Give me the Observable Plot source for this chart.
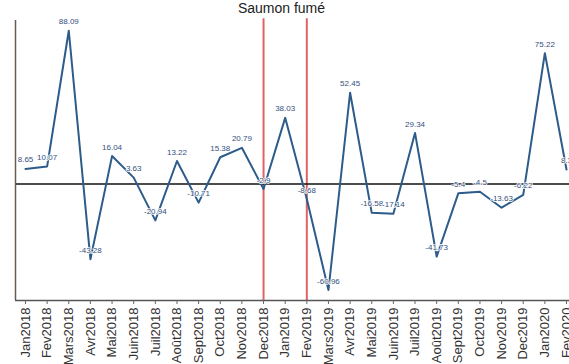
<!DOCTYPE html>
<html>
<head>
<meta charset="utf-8">
<script src="https://cdn.jsdelivr.net/npm/d3@7"></script>
<script src="https://cdn.jsdelivr.net/npm/@observablehq/plot@0.6"></script>
<style>
  body { margin: 0; background: #fff; font-family: "Liberation Sans", Arial, sans-serif; }
  #title { height: 18px; width: 569px; font-size: 14px; line-height: 16px; text-align: center; color: #222; box-sizing: border-box; padding-right: 6px; margin-top: 0; margin-bottom: 0;}
</style>
</head>
<body>
<div id="title">Saumon fumé</div>
<div id="chart"></div>
<script>
const months = ["Jan2018","Fev2018","Mars2018","Avr2018","Mai2018","Juin2018","Juil2018","Août2018","Sept2018","Oct2018","Nov2018","Dec2018","Jan2019","Fev2019","Mars2019","Avr2019","Mai2019","Juin2019","Juil2019","Août2019","Sept2019","Oct2019","Nov2019","Dec2019","Jan2020","Fev2020"];
const values = [8.65, 10.07, 88.09, -43.28, 16.04, 3.63, -20.94, 13.22, -10.71, 15.38, 20.79, -2.9, 38.03, -8.68, -60.96, 52.45, -16.58, -17.14, 29.34, -41.73, -5.4, -4.5, -13.63, -6.22, 75.22, 8.3];
const markers = ["Dec2018", "Fev2019"];
const yMin = -67, yMax = 94;

const data = months.map((m, i) => ({month: m, value: values[i]}));

const chart = Plot.plot({
  width: 569,
  height: 346,
  marginLeft: 15,
  marginRight: 0,
  marginTop: 2,
  marginBottom: 64,
  style: {fontFamily: "Liberation Sans, Arial, sans-serif", background: "white"},
  x: {type: "point", domain: months, range: [25, 566], padding: 0, round: false},
  y: {domain: [yMin, yMax], axis: null},
  marks: [
    Plot.ruleX(markers, {x: d => d, y1: yMin, y2: yMax + 1, stroke: "#e06464", strokeWidth: 2}),
    Plot.ruleY([0], {stroke: "#111", strokeWidth: 1.5}),
    Plot.ruleY([yMin], {stroke: "#555", strokeWidth: 1.5}),
    Plot.ruleX([months[0]], {y1: yMin, y2: yMax, dx: -10, stroke: "#6b5a50", strokeWidth: 1.5}),
    Plot.lineY(data, {x: "month", y: "value", stroke: "#2d5b8a", strokeWidth: 2}),
    Plot.text(data, {x: "month", y: "value", text: d => String(d.value), dy: -9, fontSize: 8, fill: "#34507e", stroke: "white", strokeWidth: 1.5}),
    Plot.axisX({tickRotate: -90, tickSize: 4, tickPadding: 3, fontSize: 13, fill: "#333", stroke: "#666", label: null})
  ]
});
document.getElementById("chart").appendChild(chart);
</script>
</body>
</html>
